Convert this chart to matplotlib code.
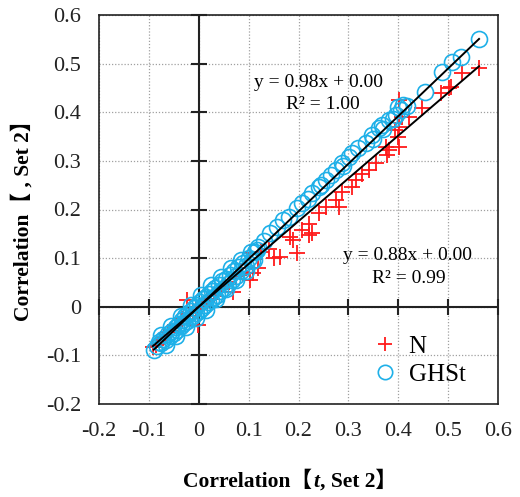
import numpy as np
from matplotlib import pyplot as plt

# N: red plus markers
n_x = [-0.092, -0.085, -0.078, -0.070, -0.062, -0.055, -0.048, -0.040, -0.033, -0.024,
       -0.020, -0.012, -0.005, -0.002, 0.004, 0.010, 0.016, 0.022, 0.030, 0.036,
       0.044, 0.052, 0.060, 0.068, 0.075, 0.085, 0.094, 0.102, 0.108, 0.118,
       0.102, 0.125, 0.140, 0.150, 0.162, 0.182, 0.188, 0.196, 0.208, 0.222,
       0.222, 0.228, 0.242, 0.256, 0.276, 0.282, 0.288, 0.308, 0.316, 0.328,
       0.342, 0.356, 0.378, 0.376, 0.382, 0.402, 0.400, 0.394, 0.408, 0.422,
       0.402, 0.402, 0.448, 0.486, 0.502, 0.506, 0.528, 0.562]
n_y = [-0.082, -0.078, -0.068, -0.062, -0.052, -0.050, -0.040, -0.036, -0.026, 0.014,
       -0.018, -0.010, -0.006, -0.038, 0.002, 0.008, 0.012, 0.016, 0.024, 0.030,
       0.036, 0.044, 0.050, 0.031, 0.064, 0.072, 0.080, 0.055, 0.069, 0.079,
       0.110, 0.112, 0.118, 0.100, 0.103, 0.143, 0.137, 0.110, 0.158, 0.171,
       0.148, 0.151, 0.192, 0.205, 0.219, 0.205, 0.236, 0.246, 0.260, 0.274,
       0.281, 0.295, 0.312, 0.329, 0.322, 0.329, 0.349, 0.363, 0.390, 0.390,
       0.370, 0.425, 0.408, 0.439, 0.449, 0.452, 0.480, 0.491]

# GHSt: cyan open circles
ghst_x = [-0.090, -0.084, -0.079, -0.075, -0.071, -0.066, -0.062, -0.058, -0.054, -0.050,
          -0.046, -0.043, -0.040, -0.036, -0.033, -0.030, -0.027, -0.024, -0.021, -0.018,
          -0.015, -0.012, -0.009, -0.006, -0.003, 0.000, 0.003, 0.006, 0.009, 0.012,
          0.015, 0.018, 0.021, 0.024, 0.027, 0.030, 0.033, 0.036, 0.040, 0.043,
          0.047, 0.050, 0.054, 0.058, 0.062, 0.066, 0.070, 0.074, 0.079, 0.084,
          0.089, 0.094, 0.100, 0.106, 0.112, 0.116, 0.118, 0.130, 0.142, 0.156,
          0.168, 0.180, 0.196, 0.208, 0.220, 0.228, 0.242, 0.245, 0.256, 0.265,
          0.276, 0.288, 0.290, 0.302, 0.308, 0.320, 0.335, 0.348, 0.350, 0.362,
          0.368, 0.370, 0.382, 0.390, 0.396, 0.400, 0.406, 0.410, 0.418, 0.454,
          0.488, 0.508, 0.526, 0.562,
          -0.075, -0.065, -0.055, -0.045, -0.035, -0.025, -0.015, -0.005, 0.005, 0.015,
          0.025, 0.035, 0.045, 0.055, 0.065, 0.075, 0.085, 0.095, 0.105, 0.110]
ghst_y = [-0.088, -0.080, -0.073, -0.075, -0.066, -0.068, -0.057, -0.060, -0.049, -0.053,
          -0.041, -0.047, -0.035, -0.040, -0.027, -0.034, -0.020, -0.029, -0.014, -0.024,
          -0.008, -0.018, -0.002, -0.013, 0.004, -0.008, 0.010, -0.002, 0.016, 0.004,
          0.021, 0.010, 0.027, 0.014, 0.032, 0.020, 0.038, 0.025, 0.045, 0.032,
          0.052, 0.039, 0.058, 0.047, 0.066, 0.055, 0.073, 0.063, 0.081, 0.073,
          0.090, 0.083, 0.100, 0.095, 0.113, 0.116, 0.123, 0.135, 0.152, 0.164,
          0.178, 0.185, 0.203, 0.213, 0.222, 0.234, 0.246, 0.250, 0.261, 0.270,
          0.281, 0.296, 0.290, 0.308, 0.316, 0.326, 0.337, 0.353, 0.345, 0.368,
          0.373, 0.365, 0.384, 0.387, 0.394, 0.410, 0.405, 0.415, 0.413, 0.442,
          0.483, 0.503, 0.514, 0.551,
          -0.058, -0.078, -0.040, -0.060, -0.018, -0.042, 0.004, -0.024, 0.024, -0.006,
          0.044, 0.016, 0.062, 0.036, 0.080, 0.054, 0.096, 0.074, 0.112, 0.096]

# linear fits shown on chart (slope, intercept, R^2)
fit_n = (0.88, 0.00, 0.99)
fit_ghst = (0.98, 0.00, 1.00)

ticks = [-0.2, -0.1, 0.0, 0.1, 0.2, 0.3, 0.4, 0.5, 0.6]
tick_labels = ["-0.2", "-0.1", "0", "0.1", "0.2", "0.3", "0.4", "0.5", "0.6"]

red = "#ff1a1a"
cyan = "#1eb0e8"
serif = "Liberation Serif"
cjk = "Noto Sans CJK JP"

fig = plt.figure(figsize=(5.2, 4.97), dpi=100)
ax = fig.add_axes([99/520, 93/497, 399/520, 389/497])

ax.set_xlim(-0.2, 0.6)
ax.set_ylim(-0.2, 0.6)
ax.set_xticks(ticks)
ax.set_yticks(ticks)
ax.set_xticklabels(tick_labels, family=serif, fontsize=16)
ax.set_yticklabels(tick_labels, family=serif, fontsize=16)
ax.tick_params(length=0, pad=13, colors="#222222")
ax.grid(color="#a0a0a0", ls=(0, (1, 1.5)), lw=0.9)
ax.set_axisbelow(True)
for s in ax.spines.values():
    s.set_linewidth(1.2)
    s.set_color("#222222")

# axes crossing at zero with tick marks
ax.axhline(0, color="#222222", lw=1.5, zorder=1)
ax.axvline(0, color="#222222", lw=1.5, zorder=1)
ax.plot(ticks, np.zeros(len(ticks)), ls="none", marker="|", ms=12, mew=1.5,
        color="#222222", zorder=1, clip_on=False)
ax.plot(np.zeros(len(ticks)), ticks, ls="none", marker="_", ms=12, mew=1.5,
        color="#222222", zorder=1, clip_on=False)

ax.plot(n_x, n_y, ls="none", marker="+", ms=11, mew=1.3, color=red, label="N", zorder=3)
ax.plot(ghst_x, ghst_y, ls="none", marker="o", ms=11.5, mew=1.2, mfc="none",
        mec=cyan, label="GHSt", zorder=4)

# trend lines
for xs, (a, b, r2) in [(ghst_x, fit_ghst), (n_x, fit_n)]:
    xl = np.array([min(xs), max(xs)])
    ax.plot(xl, a*xl + b, color="black", lw=1.4, zorder=5)

ax.text(0.24, 0.462, f"y = {fit_ghst[0]:.2f}x + {fit_ghst[1]:.2f}", family=serif,
        fontsize=14, ha="center", va="center")
ax.text(0.248, 0.415, f"R² = {fit_ghst[2]:.2f}", family=serif, fontsize=14,
        ha="center", va="center")
ax.text(0.418, 0.106, f"y = {fit_n[0]:.2f}x + {fit_n[1]:.2f}", family=serif,
        fontsize=14, ha="center", va="center")
ax.text(0.422, 0.059, f"R² = {fit_n[2]:.2f}", family=serif, fontsize=14,
        ha="center", va="center")

ax.legend(loc="upper left", bbox_to_anchor=(0.685, 0.176), frameon=False,
          prop={"family": serif, "size": 18}, handlelength=1.0, handletextpad=0.45,
          borderpad=0, borderaxespad=0, labelspacing=0.2, markerscale=0.9)

# y label (symbol missing in the source)
fig.text(23/520, 1 - 215/497, "Correlation【 , Set 2】", rotation=90, ha="center",
         va="center", family=[serif, cjk], weight="bold", fontsize=15.5)

# x label in pieces so that t is italic
pieces = [("Correlation【", [serif, cjk], "normal"),
          ("t", [serif], "italic"),
          (", Set 2】", [serif, cjk], "normal")]
txts = [fig.text(0, 10/497, s, family=fam, style=st, weight="bold", fontsize=15.5,
                 ha="left", va="baseline") for s, fam, st in pieces]
fig.canvas.draw()
r = fig.canvas.get_renderer()
widths = [t.get_window_extent(r).width for t in txts]
pos = 290 - (sum(widths) + 2) / 2
for t, w in zip(txts, widths):
    t.set_x(pos / 520)
    pos += w + 1

fig.savefig("out.png", dpi=100)
